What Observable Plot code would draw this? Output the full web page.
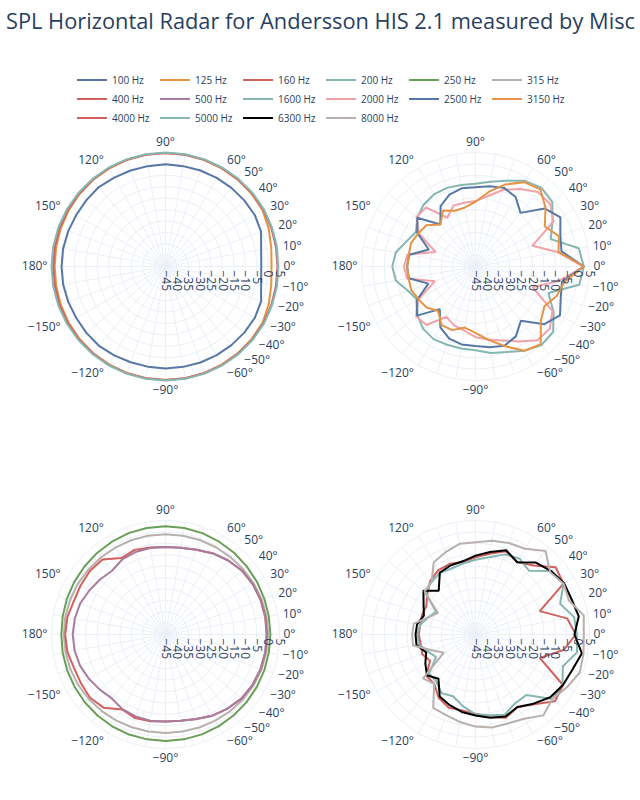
<!DOCTYPE html>
<html>
<head>
<meta charset="utf-8">
<script src="https://cdn.jsdelivr.net/npm/d3@7"></script>
<script src="https://cdn.jsdelivr.net/npm/@observablehq/plot@0.6"></script>
<style>
  body { margin: 0; background: #fff; font-family: "Open Sans", Verdana, Arial, sans-serif; }
  #root { position: relative; width: 640px; height: 800px; overflow: hidden; background: #fff; }
  #title { position: absolute; left: 6px; top: 6px; font-size: 21.8px; color: #2a3f5f; white-space: nowrap; }
  #legend { position: absolute; left: 77px; top: 70px; display: grid; grid-template-columns: repeat(6, 83px); grid-auto-rows: 19px; font-size: 10px; color: #2a3f5f; }
  .item { display: flex; align-items: center; }
  .swatch { width: 30px; height: 2px; margin-right: 5px; }
  .plot { position: absolute; }
</style>
</head>
<body>
<div id="root">
  <div id="title"></div>
  <div id="legend"></div>
</div>
<script>
const chartTitle = "SPL Horizontal Radar for Andersson HIS 2.1 measured by Misc";

// measurement angles (degrees)
const angles = [-180,-170,-160,-150,-140,-130,-120,-110,-100,-90,-80,-70,-60,-50,-40,-30,-20,-10,0,10,20,30,40,50,60,70,80,90,100,110,120,130,140,150,160,170,180];

// series names and colors
const freqs = ["100 Hz","125 Hz","160 Hz","200 Hz","250 Hz","315 Hz","400 Hz","500 Hz","1600 Hz","2000 Hz","2500 Hz","3150 Hz","4000 Hz","5000 Hz","6300 Hz","8000 Hz"];
const colors = ["#5778a4","#e49444","#d1615d","#85b6b2","#6a9f58","#b8b0ac","#d1615d","#a87c9f","#85b6b2","#f1a2a9","#5778a4","#e49444","#d1615d","#85b6b2","#000000","#b8b0ac"];

// which series go in which radar (top-left, top-right, bottom-left, bottom-right)
const panels = [
  ["100 Hz","125 Hz","160 Hz","200 Hz"],
  ["1600 Hz","2000 Hz","2500 Hz","3150 Hz"],
  ["250 Hz","315 Hz","400 Hz","500 Hz"],
  ["4000 Hz","5000 Hz","6300 Hz","8000 Hz"]
];

// SPL (dB) per angle, in the order of `angles`
const spl100  = [0.6,0.6,0.4,0.2,0.3,0.4,0.0,-0.3,-0.4,-0.3,-0.3,-0.2,-0.1,0.0,0.1,0.2,-0.4,-2.4,-3.0,-2.4,-0.4,0.2,0.1,0.0,-0.1,-0.2,-0.3,-0.2,-0.3,-0.2,0.0,0.5,0.3,0.2,0.4,0.6,0.6];
const spl125  = [3.6,3.7,3.9,4.1,4.3,4.5,4.6,4.7,4.8,4.8,4.8,4.7,4.6,4.5,4.4,4.2,3.2,2.1,1.5,2.1,3.2,4.2,4.4,4.5,4.6,4.7,4.8,4.8,4.8,4.7,4.6,4.5,4.3,4.1,3.9,3.7,3.6];
const spl160  = [4.2,4.3,4.4,4.5,4.6,4.7,4.8,4.8,4.8,4.8,4.8,4.8,4.8,4.7,4.7,4.6,4.4,4.2,4.1,4.2,4.4,4.6,4.7,4.7,4.8,4.8,4.8,4.8,4.8,4.8,4.8,4.7,4.6,4.5,4.4,4.3,4.2];
const spl200  = [5.0,5.0,5.0,5.0,5.0,5.0,5.0,5.0,5.0,5.0,5.0,5.0,5.0,5.0,5.0,4.9,4.7,4.6,4.4,4.6,4.7,4.9,5.0,5.0,5.0,5.0,5.0,5.0,5.0,5.0,5.0,5.0,5.0,5.0,5.0,5.0,5.0];
const spl250  = [0.7,0.8,0.9,1.0,1.2,1.4,1.6,1.7,1.7,1.7,1.7,1.6,1.5,1.4,1.3,1.2,1.1,1.0,1.0,1.0,1.1,1.3,1.5,1.8,2.0,2.3,2.4,2.5,2.4,2.3,2.0,1.7,1.4,1.2,1.0,0.8,0.7];
const spl315  = [-0.4,-0.5,-0.6,-0.8,-1.0,-1.3,-1.5,-1.7,-1.8,-1.8,-1.8,-1.6,-1.4,-1.0,-0.7,-0.4,-0.2,-0.1,0.0,0.0,-0.1,-0.3,-0.5,-0.7,-0.8,-0.9,-1.0,-1.0,-1.0,-1.0,-1.0,-0.9,-0.8,-0.6,-0.5,-0.4,-0.4];
const spl400  = [-1.0,-1.3,-2.3,-2.2,-1.8,-3.0,-7.0,-6.0,-6.4,-6.8,-6.6,-5.6,-3.9,-2.6,-1.4,-0.9,-0.6,-0.5,-0.5,-0.5,-0.6,-0.8,-1.3,-2.5,-3.8,-5.4,-6.4,-6.6,-6.2,-5.5,-6.3,-2.0,-1.7,-2.0,-2.2,-1.3,-1.0];
const spl500  = [-4.3,-4.5,-5.1,-6.2,-7.4,-8.4,-7.2,-6.8,-6.6,-6.8,-6.6,-5.6,-3.9,-2.6,-1.4,-0.9,-0.6,-0.6,-0.7,-0.6,-0.6,-0.8,-1.3,-2.5,-3.8,-5.4,-6.4,-6.6,-6.5,-6.5,-7.0,-8.5,-7.5,-6.4,-5.2,-4.6,-4.3];
const spl1600 = [-8.5,-9.5,-13.6,-15.6,-11.8,-9.3,-8.2,-8.5,-8.5,-8.3,-6.5,-5.1,-2.3,0.0,-0.5,-5.5,-11.0,1.2,2.5,1.0,-9.9,-6.0,-1.0,0.0,-1.6,-5.0,-7.3,-8.7,-8.7,-8.3,-8.5,-9.6,-11.7,-14.8,-12.8,-9.5,-8.5];
const spl2000 = [-13.6,-14.5,-26.0,-16.0,-11.0,-11.5,-19.5,-17.5,-16.5,-14.0,-12.5,-10.5,-7.0,-2.8,-2.5,-6.0,-18.4,-8.0,2.5,-8.5,-18.5,-5.5,-2.3,-2.4,-5.8,-9.2,-13.6,-16.3,-16.6,-16.6,-20.3,-11.2,-11.2,-16.5,-26.4,-14.7,-13.6];
const spl2500 = [-15.0,-15.3,-23.0,-15.2,-11.5,-20.6,-14.2,-11.3,-10.3,-10.1,-9.0,-8.0,-9.6,-14.0,-5.6,-2.2,-5.2,-6.5,2.5,-6.7,-5.4,-2.0,-5.4,-14.3,-9.8,-8.3,-9.3,-10.2,-10.2,-11.5,-14.4,-21.0,-11.7,-15.5,-23.2,-15.5,-15.0];
const spl3150 = [-15.0,-15.2,-15.0,-16.2,-17.0,-19.5,-15.3,-15.3,-17.8,-15.9,-12.3,-7.9,-2.3,-0.5,-7.6,-10.1,-7.1,-5.5,2.5,-8.0,-6.1,-9.9,-4.9,-0.8,-2.3,-6.7,-11.8,-16.6,-18.7,-19.0,-16.6,-21.0,-16.9,-16.0,-14.9,-15.3,-15.0];
const spl4000 = [-20.1,-20.6,-20.1,-22.0,-16.8,-16.8,-12.8,-10.8,-11.2,-10.2,-8.2,-6.1,-8.2,-5.0,0.5,-0.7,-15.0,-5.8,-1.0,-4.2,-15.0,-0.4,0.9,-5.5,-8.3,-6.1,-9.0,-11.1,-12.8,-12.0,-12.4,-14.2,-17.4,-20.1,-20.0,-20.4,-20.1];
const spl5000 = [-19.4,-19.9,-23.0,-25.0,-18.4,-18.2,-15.3,-16.2,-13.1,-10.0,-9.0,-7.6,-10.2,-10.4,-1.0,-1.0,-4.2,0.2,-0.5,-1.1,-5.5,-0.4,-1.7,-8.5,-6.5,-7.6,-10.6,-12.2,-13.4,-14.2,-13.7,-15.0,-16.3,-25.0,-22.9,-20.4,-19.4];
const spl6300 = [-18.7,-18.7,-22.0,-19.6,-17.2,-19.7,-13.6,-12.0,-10.5,-9.5,-7.9,-6.7,-8.3,-5.4,-2.2,-0.7,0.2,2.4,-1.6,1.0,-0.1,-0.1,-1.7,-3.8,-8.4,-5.7,-8.3,-10.4,-12.4,-12.8,-13.7,-19.9,-15.2,-18.7,-20.9,-19.0,-18.7];
const spl8000 = [-17.2,-17.2,-24.8,-29.0,-15.0,-16.8,-7.9,-7.4,-6.0,-4.6,-3.6,-3.5,-2.3,1.3,-1.0,1.3,3.7,3.1,2.5,3.2,-1.4,-0.4,-2.3,2.8,-1.6,-2.3,-3.2,-4.5,-4.6,-6.6,-8.4,-15.0,-15.8,-26.0,-23.0,-17.5,-17.2];

const seriesValues = [spl100,spl125,spl160,spl200,spl250,spl315,spl400,spl500,spl1600,spl2000,spl2500,spl3150,spl4000,spl5000,spl6300,spl8000];

// axis ticks
const radialTicks = [-45,-40,-35,-30,-25,-20,-15,-10,-5,0,5];
const gridCircles = [-40,-35,-30,-25,-20,-15,-10,-5,0,5];
const spokeAngles = [0,10,20,30,40,50,60,70,80,90,100,110,120,130,140,150,160,170,180,190,200,210,220,230,240,250,260,270,280,290,300,310,320,330,340,350];
const angleTicks = [0,10,20,30,40,50,60,90,120,150,180,-150,-120,-90,-60,-50,-40,-30,-20,-10];

// long table
const rows = [];
freqs.forEach((f, k) => seriesValues[k].forEach((v, i) => rows.push({freq: f, angle: angles[i], spl: v})));

const rMin = -45, rMax = 5;
const R = 114;                 // polar radius in px
const pxPerUnit = R / (rMax - rMin);
const rad = a => a * Math.PI / 180;
const minus = s => String(s).replace("-", "\u2212");
const gridColor = "#EBF0F8";
const textColor = "#2a3f5f";

function radar(names) {
  const data = rows.filter(d => names.includes(d.freq));
  const lab = (a) => (rMax - rMin) + (4 + 6 * Math.abs(Math.sin(rad(a)))) / pxPerUnit;
  const anchorOf = a => { const c = Math.cos(rad(a)); return Math.abs(c) < 0.05 ? "middle" : (c > 0 ? "start" : "end"); };
  const textMark = anchor => Plot.text(angleTicks.filter(a => anchorOf(a) === anchor), {
    x: a => lab(a) * Math.cos(rad(a)),
    y: a => lab(a) * Math.sin(rad(a)),
    text: a => minus(a) + "\u00b0",
    textAnchor: anchor, fontSize: 12, fill: textColor
  });
  return Plot.plot({
    width: 300, height: 300, margin: 36,
    style: {fontFamily: "'Open Sans', Verdana, Arial, sans-serif", background: "transparent", overflow: "visible"},
    x: {domain: [-(rMax - rMin), rMax - rMin], axis: null},
    y: {domain: [-(rMax - rMin), rMax - rMin], axis: null},
    r: {type: "linear", domain: [0, rMax - rMin], range: [0, R]},
    color: {domain: freqs, range: colors},
    marks: [
      Plot.link(spokeAngles, {
        x1: () => 0, y1: () => 0,
        x2: a => (rMax - rMin) * Math.cos(rad(a)),
        y2: a => (rMax - rMin) * Math.sin(rad(a)),
        stroke: gridColor, strokeWidth: 1
      }),
      Plot.dot(gridCircles, {x: () => 0, y: () => 0, r: v => v - rMin, stroke: gridColor, fill: "none", strokeWidth: 1}),
      Plot.line(data, {
        x: d => (d.spl - rMin) * Math.cos(rad(d.angle)),
        y: d => (d.spl - rMin) * Math.sin(rad(d.angle)),
        z: "freq", stroke: "freq", strokeWidth: 2, strokeLinejoin: "miter", strokeLinecap: "butt"
      }),
      Plot.text(radialTicks, {
        x: v => v - rMin, y: () => 0, text: v => minus(v),
        rotate: 90, textAnchor: "start", dy: 4, fontSize: 12, fill: textColor
      }),
      textMark("start"), textMark("middle"), textMark("end")
    ]
  });
}

const root = document.getElementById("root");
document.getElementById("title").textContent = chartTitle;

const legend = document.getElementById("legend");
freqs.forEach((f, k) => {
  const it = document.createElement("div");
  it.className = "item";
  it.innerHTML = `<span class="swatch" style="background:${colors[k]}"></span><span>${f}</span>`;
  legend.appendChild(it);
});

const centers = [[165, 265.5], [475, 265.5], [165, 634], [475, 634]];
panels.forEach((names, p) => {
  const svg = radar(names);
  const wrap = document.createElement("div");
  wrap.className = "plot";
  wrap.style.left = (centers[p][0] - 150) + "px";
  wrap.style.top = (centers[p][1] - 150) + "px";
  wrap.appendChild(svg);
  root.appendChild(wrap);
});
</script>
</body>
</html>
